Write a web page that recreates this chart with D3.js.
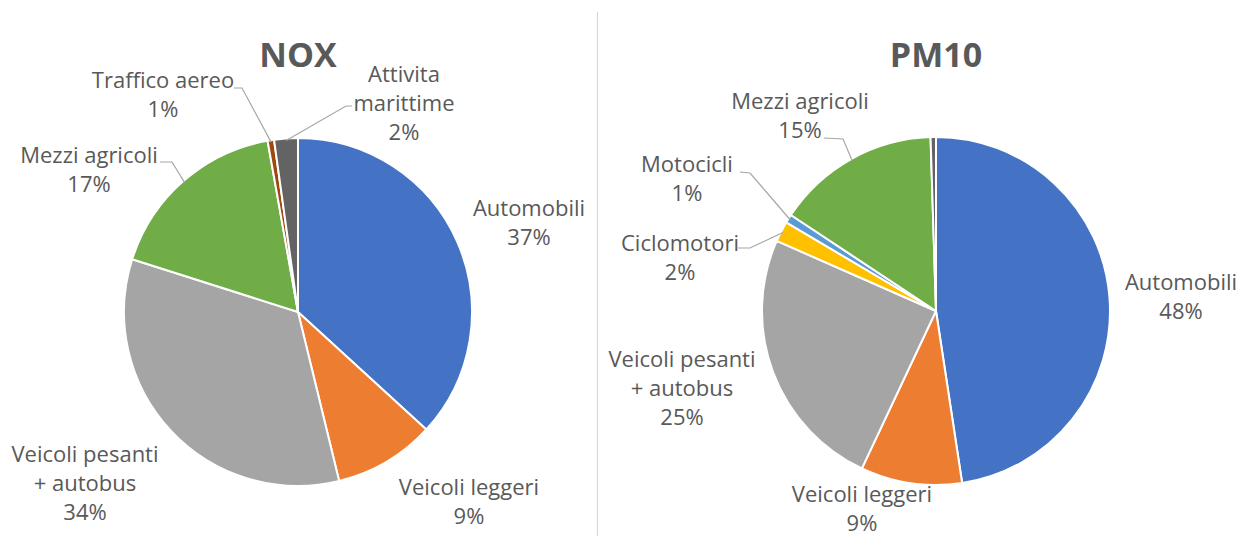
<!DOCTYPE html>
<html>
<head>
<meta charset="utf-8">
<script src="https://cdn.jsdelivr.net/npm/d3@7"></script>
<style>
  html, body { margin: 0; padding: 0; background: #fff; }
  svg text { font-family: "Open Sans", "Noto Sans", sans-serif; fill: #595959; }
</style>
</head>
<body>
<svg id="chart" width="1249" height="536"></svg>
<script>
// Emission shares by source (percent)
const noxCategories = ["Automobili", "Veicoli leggeri", "Veicoli pesanti + autobus", "Mezzi agricoli", "Traffico aereo", "Attivita marittime"];
const noxValues     = [36.8, 9.4, 33.7, 17.3, 0.6, 2.2];

const pm10Categories = ["Automobili", "Veicoli leggeri", "Veicoli pesanti + autobus", "Ciclomotori", "Motocicli", "Mezzi agricoli", "Attivita marittime"];
const pm10Values     = [47.6, 9.4, 24.6, 1.9, 0.8, 15.2, 0.5];

const chartTitles = ["NOX", "PM10"];

// Palette keyed by source
const palette = {
  "Automobili": "#4472C4",
  "Veicoli leggeri": "#ED7D31",
  "Veicoli pesanti + autobus": "#A5A5A5",
  "Ciclomotori": "#FFC000",
  "Motocicli": "#5B9BD5",
  "Mezzi agricoli": "#70AD47",
  "Traffico aereo": "#9E480E",
  "Attivita marittime": "#636363"
};

// Label layout: text lines, anchor (centre x, first baseline y), leader line start
const noxLabels = {
  "Automobili": { lines: ["Automobili"], x: 529, y: 216 },
  "Veicoli leggeri": { lines: ["Veicoli leggeri"], x: 469, y: 495 },
  "Veicoli pesanti + autobus": { lines: ["Veicoli pesanti", "+ autobus"], x: 85, y: 462 },
  "Mezzi agricoli": { lines: ["Mezzi agricoli"], x: 89, y: 163, leader: [[160, 162], [172, 162]] },
  "Traffico aereo": { lines: ["Traffico aereo"], x: 163, y: 88, leader: [[234, 88], [242, 88]] },
  "Attivita marittime": { lines: ["Attivita", "marittime"], x: 404, y: 82, leader: [[352, 106], [346, 106]] }
};
const pm10Labels = {
  "Automobili": { lines: ["Automobili"], x: 1181, y: 290 },
  "Veicoli leggeri": { lines: ["Veicoli leggeri"], x: 862, y: 502 },
  "Veicoli pesanti + autobus": { lines: ["Veicoli pesanti", "+ autobus"], x: 682, y: 367 },
  "Ciclomotori": { lines: ["Ciclomotori"], x: 680, y: 251, leader: [[738, 248], [750, 248]] },
  "Motocicli": { lines: ["Motocicli"], x: 687, y: 172, leader: [[740, 172], [750, 173]] },
  "Mezzi agricoli": { lines: ["Mezzi agricoli"], x: 800, y: 109, leader: [[824, 138], [843, 139]] },
  "Attivita marittime": null
};

const svg = d3.select("#chart");
const radius = 174;
const lineH = 29;

// Divider between the two charts
svg.append("line")
  .attr("x1", 597.5).attr("x2", 597.5)
  .attr("y1", 12).attr("y2", 536)
  .attr("stroke", "#d9d9d9").attr("stroke-width", 1.2);

function drawPie(cx, cy, title, categories, values, labels) {
  const g = svg.append("g");
  const data = categories.map((c, i) => ({ cat: c, value: values[i] }));
  const total = d3.sum(values);
  const pie = d3.pie().sort(null).value(d => d.value);
  const arcs = pie(data);
  const arc = d3.arc().innerRadius(0).outerRadius(radius);

  g.append("text")
    .attr("x", cx).attr("y", 67)
    .attr("text-anchor", "middle")
    .attr("font-size", 34).attr("font-weight", 700)
    .text(title);

  const pg = g.append("g").attr("transform", `translate(${cx},${cy})`);
  pg.selectAll("path")
    .data(arcs)
    .join("path")
    .attr("d", arc)
    .attr("fill", d => palette[d.data.cat])
    .attr("stroke", "#fff")
    .attr("stroke-width", 2)
    .attr("stroke-linejoin", "round");

  arcs.forEach(a => {
    const lab = labels[a.data.cat];
    if (!lab) return;
    const pct = Math.round(a.data.value / total * 100) + "%";
    const lines = lab.lines.concat([pct]);
    const t = g.append("text")
      .attr("text-anchor", "middle")
      .attr("font-size", 22);
    lines.forEach((ln, i) => {
      t.append("tspan").attr("x", lab.x).attr("y", lab.y + i * lineH).text(ln);
    });
    if (lab.leader) {
      const mid = (a.startAngle + a.endAngle) / 2;
      const ex = cx + Math.sin(mid) * (radius - 2);
      const ey = cy - Math.cos(mid) * (radius - 2);
      const pts = lab.leader.concat([[ex, ey]]);
      g.append("path")
        .attr("d", d3.line()(pts))
        .attr("fill", "none")
        .attr("stroke", "#a6a6a6")
        .attr("stroke-width", 1.2);
    }
  });
}

drawPie(298, 312, chartTitles[0], noxCategories, noxValues, noxLabels);
drawPie(936, 311, chartTitles[1], pm10Categories, pm10Values, pm10Labels);
</script>
</body>
</html>
